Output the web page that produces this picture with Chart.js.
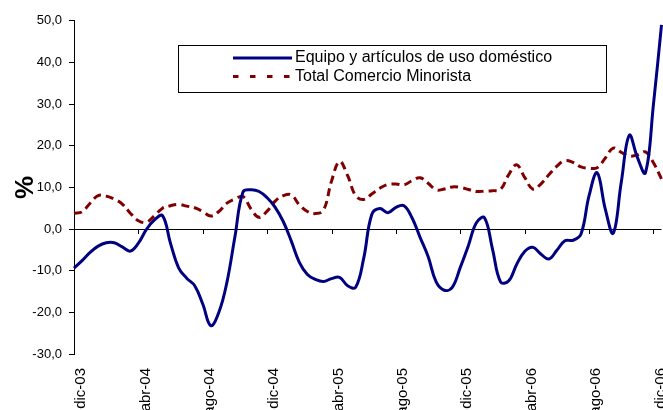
<!DOCTYPE html>
<html>
<head>
<meta charset="utf-8">
<script src="https://cdn.jsdelivr.net/npm/chart.js@4/dist/chart.umd.min.js"></script>
<style>
  html, body { margin: 0; padding: 0; background: #fff; overflow: hidden; }
  #wrap { width: 663px; height: 410px; position: relative; }
</style>
</head>
<body>
<div id="wrap"><canvas id="c" width="663" height="410"></canvas></div>
<script>
// ---- data ----
const months = [
  "dic-03","ene-04","feb-04","mar-04","abr-04","may-04","jun-04","jul-04","ago-04","sep-04","oct-04","nov-04",
  "dic-04","ene-05","feb-05","mar-05","abr-05","may-05","jun-05","jul-05","ago-05","sep-05","oct-05","nov-05",
  "dic-05","ene-06","feb-06","mar-06","abr-06","may-06","jun-06","jul-06","ago-06","sep-06","oct-06","nov-06",
  "dic-06"
];
// two observations per month (first and second half), dic-03 .. dic-06 (+ one)
const categories = [];
for (let m = 0; m < months.length; m++) { categories.push(months[m] + " (1)"); categories.push(months[m] + " (2)"); }
categories.length = 74;

const tickLabels = ["dic-03","abr-04","ago-04","dic-04","abr-05","ago-05","dic-05","abr-06","ago-06","dic-06"];

const equipo = [
  -9.4,-7.6,-5.6,-4.1,-3.3,-3.3,-4.3,-5.3,-3.4,-0.1,
  2.2,3.2,-3.5,-9.3,-11.8,-13.6,-18.0,-23.2,-20.0,-12.8,
  -1.8,8.9,9.4,9.0,7.5,5.2,1.8,-2.9,-8.0,-10.9,
  -12.1,-12.6,-11.9,-11.6,-13.6,-14.0,-7.0,3.5,4.9,3.9,
  5.2,5.6,2.7,-2.0,-6.6,-12.7,-14.7,-14.0,-9.2,-4.0,
  1.5,2.7,-4.8,-12.7,-12.5,-8.5,-5.4,-4.4,-6.0,-7.2,
  -5.1,-2.8,-2.7,-1.2,8.0,13.5,4.9,-1.0,11.2,22.5,
  17.2,13.5,29.9,49.0
];
const totalComercio = [
  3.8,4.1,6.2,8.0,7.9,7.2,6.0,3.8,2.0,1.6,
  3.2,5.0,5.6,5.9,5.5,5.1,4.2,3.1,4.2,6.2,
  7.2,7.8,4.8,2.8,4.3,6.7,8.0,8.2,5.8,4.2,
  3.7,4.5,11.5,16.2,12.8,8.0,7.1,8.4,9.8,10.7,
  10.8,10.6,11.6,12.3,11.0,9.4,9.6,10.1,10.0,9.5,
  9.0,9.1,9.2,9.5,13.0,15.4,12.4,9.6,10.8,13.0,
  15.1,16.4,16.0,14.9,14.6,14.7,17.0,19.4,18.4,17.5,
  17.8,18.5,15.9,12.0
];
const seriesNames = ["Equipo y artículos de uso doméstico", "Total Comercio Minorista"];
const yMin = -30, yMax = 50, yStep = 10;

// ---- plugins ----
const FONT = "'Liberation Sans', Arial, sans-serif";

const zeroTicks = {
  id: 'zeroTicks',
  beforeDatasetsDraw(chart) {
    const ctx = chart.ctx, xs = chart.scales.x, ys = chart.scales.y;
    const y0 = ys.getPixelForValue(0);
    ctx.save();
    ctx.strokeStyle = '#000';
    ctx.lineWidth = 1;
    for (let i = 0; i < categories.length; i++) {
      if (i % 8 !== 0) continue;
      const x = Math.round(xs.getPixelForValue(i)) + 0.5;
      ctx.beginPath();
      ctx.moveTo(x, y0);
      ctx.lineTo(x, y0 + 5);
      ctx.stroke();
    }
    ctx.restore();
  }
};

const boxLegend = {
  id: 'boxLegend',
  afterDraw(chart) {
    const ctx = chart.ctx;
    const bx = 178.5, by = 45.5, bw = 428, bh = 47;
    ctx.save();
    ctx.fillStyle = '#fff';
    ctx.fillRect(bx, by, bw, bh);
    ctx.strokeStyle = '#000';
    ctx.lineWidth = 1;
    ctx.strokeRect(bx, by, bw, bh);
    const rows = [58, 76.5];
    chart.data.datasets.forEach((ds, i) => {
      const y = rows[i];
      ctx.beginPath();
      ctx.strokeStyle = ds.borderColor;
      ctx.lineWidth = ds.borderWidth;
      ctx.setLineDash(i === 1 ? [5.5, 11.5] : []);
      ctx.moveTo(233, y);
      ctx.lineTo(292, y);
      ctx.stroke();
      ctx.setLineDash([]);
      ctx.fillStyle = '#000';
      ctx.font = '16px ' + FONT;
      ctx.textAlign = 'left';
      ctx.textBaseline = 'alphabetic';
      ctx.fillText(ds.label, 295, y + 4);
    });
    ctx.restore();
  }
};

new Chart(document.getElementById('c'), {
  type: 'line',
  data: {
    labels: categories,
    datasets: [
      {
        label: seriesNames[0],
        data: equipo,
        borderColor: '#000080',
        backgroundColor: '#000080',
        borderWidth: 3,
        pointRadius: 0,
        tension: 0.4,
        fill: false
      },
      {
        label: seriesNames[1],
        data: totalComercio,
        borderColor: '#800000',
        backgroundColor: '#800000',
        borderWidth: 3,
        borderDash: [8, 5],
        pointRadius: 0,
        tension: 0.4,
        fill: false
      }
    ]
  },
  options: {
    responsive: false,
    animation: false,
    layout: { padding: { top: 20.7, right: 1.5, left: 0, bottom: 0 } },
    plugins: { legend: { display: false }, tooltip: { enabled: false } },
    scales: {
      x: {
        type: 'category',
        grid: { display: false, drawTicks: false },
        border: { display: false },
        ticks: {
          autoSkip: false,
          minRotation: 90,
          maxRotation: 90,
          padding: 14,
          labelOffset: 7,
          color: '#000',
          font: { family: FONT, size: 15 },
          callback: (v, i) => (i % 8 === 0 ? tickLabels[i / 8] : '')
        },
        afterFit: (s) => { s.height = 56; s.paddingLeft = 0; s.paddingRight = 0; }
      },
      y: {
        min: yMin,
        max: yMax,
        grid: {
          drawOnChartArea: true,
          drawTicks: true,
          tickLength: 5,
          color: (c) => (c.tick && c.tick.value === 0 ? '#000' : 'rgba(0,0,0,0)'),
          tickColor: '#000',
          lineWidth: 1
        },
        border: { display: true, color: '#000', width: 1 },
        ticks: {
          stepSize: yStep,
          padding: 7,
          color: '#000',
          font: { family: FONT, size: 13 },
          callback: (v) => v.toFixed(1).replace('.', ',')
        },
        title: {
          display: true,
          text: '%',
          color: '#000',
          font: { family: FONT, size: 26, weight: 'bold' },
          padding: { top: 10, bottom: 0 }
        },
        afterFit: (s) => { s.width = 74; }
      }
    }
  },
  plugins: [zeroTicks, boxLegend]
});
</script>
</body>
</html>
